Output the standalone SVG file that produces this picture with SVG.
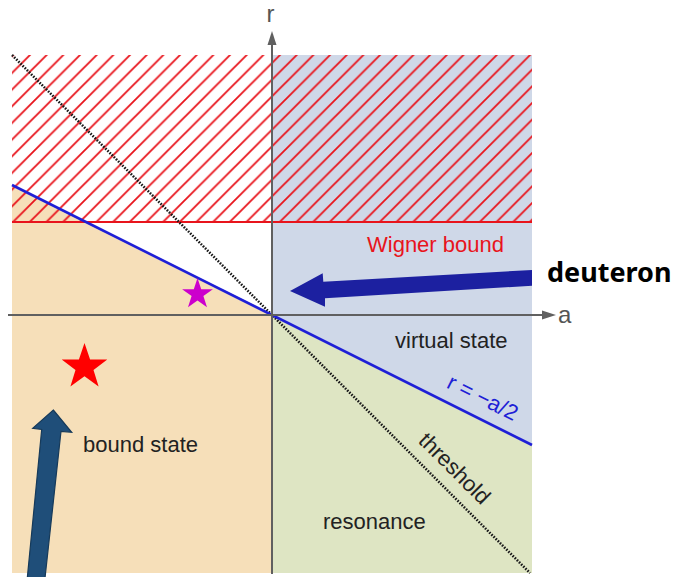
<svg xmlns="http://www.w3.org/2000/svg" width="677" height="577" viewBox="0 0 677 577">
  <style>
    .lbl { font-family: "Liberation Sans", Arial, sans-serif; font-size: 22px; fill: #222; }
    .ax { stroke: #606060; stroke-width: 2; fill: none; }
    .axl { font-family: "Liberation Sans", Arial, sans-serif; font-size: 24px; fill: #555; }
  </style>
  <defs>
    <pattern id="hatch" patternUnits="userSpaceOnUse" width="16.67" height="16.67" patternTransform="translate(1.63 0)">
      <path d="M-1,17.67 L17.67,-1 M-1,1 L1,-1 M15.67,17.67 L17.67,15.67" stroke="#e8141c" stroke-width="1.8" fill="none"/>
    </pattern>
  </defs>
  <rect width="677" height="577" fill="#ffffff"/>

  <g id="regions">
    <polygon points="12,55 272,55 272,315 12,185" fill="#ffffff"/>
    <polygon points="12,185 272,315 272,573 12,573" fill="#f6dfb9"/>
    <polygon points="272,55 532,55 532,445 272,315" fill="#cfd8e8"/>
    <polygon points="272,315 532,445 532,573 272,573" fill="#dee5c3"/>
    <rect x="12" y="55" width="520" height="167" fill="url(#hatch)"/>
    <line x1="12" y1="222" x2="532" y2="222" stroke="#e8141c" stroke-width="2.2"/>
  </g>

  <g id="lines">
    <line id="threshold-line" x1="12" y1="55" x2="530" y2="573" stroke="#1a1a1a" stroke-width="2.6" stroke-dasharray="1.6 1.4"/>
    <line id="r-line" x1="12" y1="185" x2="532" y2="445" stroke="#1f1fd6" stroke-width="2.6"/>
  </g>

  <g id="axes">
    <line class="ax" x1="272" y1="574" x2="272" y2="42"/>
    <polygon points="272,31 267.5,45 276.5,45" fill="#606060"/>
    <line class="ax" x1="8" y1="315" x2="544" y2="315"/>
    <polygon points="556,315 542,310.5 542,319.5" fill="#606060"/>
    <text class="axl" x="266.5" y="22">r</text>
    <text class="axl" x="558" y="323">a</text>
  </g>

  <g id="labels">
    <text class="lbl" x="367" y="252" style="fill:#e8141c">Wigner bound</text>
    <text class="lbl" x="395" y="348">virtual state</text>
    <text class="lbl" x="83" y="452">bound state</text>
    <text class="lbl" x="323" y="529">resonance</text>
    <text class="lbl" text-anchor="middle" transform="translate(455,468) rotate(45)" x="0" y="8">threshold</text>
    <text class="lbl" text-anchor="middle" transform="translate(483,397) rotate(26.57)" x="0" y="8" style="fill:#1f1fd6">r = −a/2</text>
  </g>

  <g id="stars">
    <polygon id="red-star" fill="#ff0000" points="84.5,343 90.1,359.6 107.3,359.6 93.5,369.9 98.6,386.4 84.5,376.3 70.4,386.4 75.5,369.9 61.7,359.6 78.9,359.6"/>
    <polygon id="magenta-star" fill="#cc00cc" points="197.5,278 201.2,289.2 212.9,289.2 203.4,296.1 207.0,307.3 197.5,300.4 188.0,307.3 191.6,296.1 182.1,289.2 193.8,289.2"/>
  </g>

  <g id="deuteron">
    <polygon points="532,270 323.3,281.7 322.7,273.3 290,291 325,306.7 325,298.3 532,285.7" fill="#1c20a0"/>
    <text x="547" y="282" style="font-family:'Noto Sans','Open Sans',sans-serif;font-size:27px;font-weight:bold;fill:#000">deuteron</text>
  </g>

  <g id="pointer">
    <polygon points="53.3,410 71.7,432.3 61,431.3 45,578 27.3,578 41.7,429.5 32.7,428.3" fill="#1f4e79" stroke="#163a5a" stroke-width="1.2"/>
  </g>
</svg>
